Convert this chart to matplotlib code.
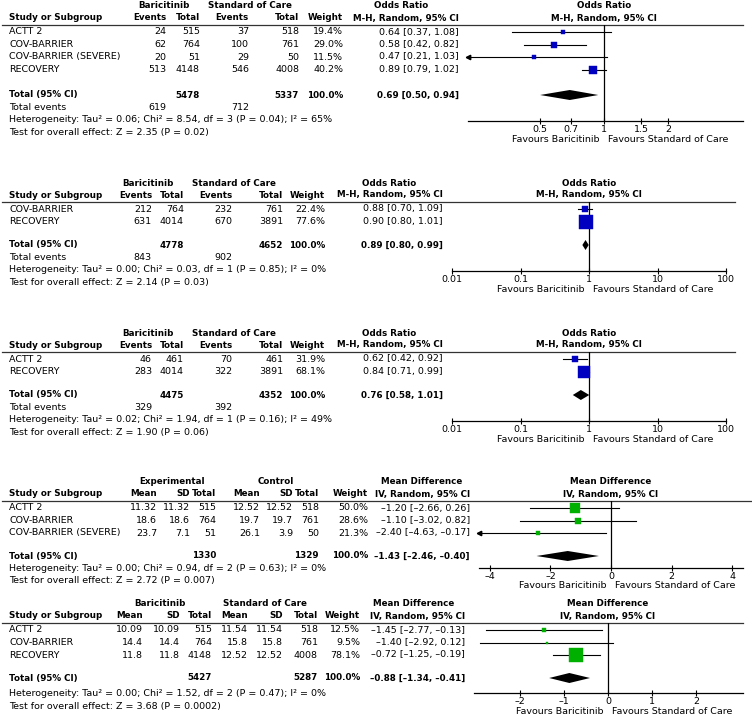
import matplotlib
matplotlib.use("Agg")
import matplotlib.pyplot as plt
from matplotlib.patches import Polygon

plt.rcParams["font.family"] = ["DejaVu Sans"]

W, H = 752, 716
FS = 6.8       # regular text
FS_B = 6.3     # bold text (Lucida bold runs narrower than DejaVu bold)
BLUE = "#0000C0"
GREEN = "#00B000"
DASH = "\u2013"

# --- panel 1: odds ratio, all four studies ---
p1_study = ["ACTT 2", "COV-BARRIER", "COV-BARRIER (SEVERE)", "RECOVERY"]
p1_bari_events = [24, 62, 20, 513]
p1_bari_total = [515, 764, 51, 4148]
p1_soc_events = [37, 100, 29, 546]
p1_soc_total = [518, 761, 50, 4008]
p1_weight = [19.4, 29.0, 11.5, 40.2]
p1_or = [0.64, 0.58, 0.47, 0.89]
p1_lo = [0.37, 0.42, 0.21, 0.79]
p1_hi = [1.08, 0.82, 1.03, 1.02]
p1_totals = [5478, 5337]
p1_total_events = [619, 712]
p1_pooled = [0.69, 0.50, 0.94]
p1_het = "Heterogeneity: Tau² = 0.06; Chi² = 8.54, df = 3 (P = 0.04); I² = 65%"
p1_test = "Test for overall effect: Z = 2.35 (P = 0.02)"
p1_ticks = [0.5, 0.7, 1, 1.5, 2]
p1_ticklabels = ["0.5", "0.7", "1", "1.5", "2"]

# --- panel 2 ---
p2_study = ["COV-BARRIER", "RECOVERY"]
p2_bari_events = [212, 631]
p2_bari_total = [764, 4014]
p2_soc_events = [232, 670]
p2_soc_total = [761, 3891]
p2_weight = [22.4, 77.6]
p2_or = [0.88, 0.90]
p2_lo = [0.70, 0.80]
p2_hi = [1.09, 1.01]
p2_totals = [4778, 4652]
p2_total_events = [843, 902]
p2_pooled = [0.89, 0.80, 0.99]
p2_het = "Heterogeneity: Tau² = 0.00; Chi² = 0.03, df = 1 (P = 0.85); I² = 0%"
p2_test = "Test for overall effect: Z = 2.14 (P = 0.03)"

# --- panel 3 ---
p3_study = ["ACTT 2", "RECOVERY"]
p3_bari_events = [46, 283]
p3_bari_total = [461, 4014]
p3_soc_events = [70, 322]
p3_soc_total = [461, 3891]
p3_weight = [31.9, 68.1]
p3_or = [0.62, 0.84]
p3_lo = [0.42, 0.71]
p3_hi = [0.92, 0.99]
p3_totals = [4475, 4352]
p3_total_events = [329, 392]
p3_pooled = [0.76, 0.58, 1.01]
p3_het = "Heterogeneity: Tau² = 0.02; Chi² = 1.94, df = 1 (P = 0.16); I² = 49%"
p3_test = "Test for overall effect: Z = 1.90 (P = 0.06)"

log_ticks = [0.01, 0.1, 1, 10, 100]
log_ticklabels = ["0.01", "0.1", "1", "10", "100"]

# --- panel 4: mean difference ---
p4_study = ["ACTT 2", "COV-BARRIER", "COV-BARRIER (SEVERE)"]
p4_exp_mean = [11.32, 18.6, 23.7]
p4_exp_sd = [11.32, 18.6, 7.1]
p4_exp_total = [515, 764, 51]
p4_ctl_mean = [12.52, 19.7, 26.1]
p4_ctl_sd = [12.52, 19.7, 3.9]
p4_ctl_total = [518, 761, 50]
p4_weight = [50.0, 28.6, 21.3]
p4_md = [-1.20, -1.10, -2.40]
p4_lo = [-2.66, -3.02, -4.63]
p4_hi = [0.26, 0.82, -0.17]
p4_totals = [1330, 1329]
p4_pooled = [-1.43, -2.46, -0.40]
p4_het = "Heterogeneity: Tau² = 0.00; Chi² = 0.94, df = 2 (P = 0.63); I² = 0%"
p4_test = "Test for overall effect: Z = 2.72 (P = 0.007)"
p4_ticks = [-4, -2, 0, 2, 4]

# --- panel 5 ---
p5_study = ["ACTT 2", "COV-BARRIER", "RECOVERY"]
p5_exp_mean = [10.09, 14.4, 11.8]
p5_exp_sd = [10.09, 14.4, 11.8]
p5_exp_total = [515, 764, 4148]
p5_ctl_mean = [11.54, 15.8, 12.52]
p5_ctl_sd = [11.54, 15.8, 12.52]
p5_ctl_total = [518, 761, 4008]
p5_weight = [12.5, 9.5, 78.1]
p5_md = [-1.45, -1.40, -0.72]
p5_lo = [-2.77, -2.92, -1.25]
p5_hi = [-0.13, 0.12, -0.19]
p5_totals = [5427, 5287]
p5_pooled = [-0.88, -1.34, -0.41]
p5_het = "Heterogeneity: Tau² = 0.00; Chi² = 1.52, df = 2 (P = 0.47); I² = 0%"
p5_test = "Test for overall effect: Z = 3.68 (P = 0.0002)"
p5_ticks = [-2, -1, 0, 1, 2]


def fmt(v):
    return f"{v:.2f}".replace("-", DASH)


def ci_text(m, lo, hi):
    return f"{fmt(m)} [{fmt(lo)}, {fmt(hi)}]"


def txt(ax, x, y, s, ha="right", bold=False):
    ax.text(x, y, s, ha=ha, va="center", fontsize=FS_B if bold else FS,
            fontweight="bold" if bold else "normal")


def draw_panel(fig, ax0, p):
    line_y, axis_y = p["line_y"], p["axis_y"]
    cols = p["cols"]
    rows_y = [line_y + 7 + i * 12.5 for i in range(len(p["names"]))]

    # table headers
    for label, cx in p["groups"]:
        txt(ax0, cx, line_y - 19, label, ha="center", bold=True)
    txt(ax0, 9, line_y - 7, "Study or Subgroup", ha="left", bold=True)
    for label, cx in zip(p["subheads"], cols):
        txt(ax0, cx, line_y - 7, label, bold=True)
    ax0.plot([2, p["line_end"]], [line_y, line_y], color="#333333", lw=0.9)

    for y, name, cells in zip(rows_y, p["names"], p["cells"]):
        txt(ax0, 9, y, name, ha="left")
        for cx, s in zip(cols, cells):
            txt(ax0, cx, y, s)

    ty = p["total_y"]
    txt(ax0, 9, ty, "Total (95% CI)", ha="left", bold=True)
    for cx, s in zip(p["total_cols"], p["total_cells"]):
        txt(ax0, cx, ty, s, bold=True)
    y = ty + 12.5
    if p.get("events") is not None:
        txt(ax0, 9, y, "Total events", ha="left")
        for cx, s in zip(p["events_cols"], p["events"]):
            txt(ax0, cx, y, str(s))
        y += 12.5
    txt(ax0, 9, p.get("het_y", y), p["het"], ha="left")
    txt(ax0, 9, p.get("het_y", y) + 12.5, p["test"], ha="left")

    # forest plot
    x0, x1 = p["plot_x"]
    ax = fig.add_axes([x0 / W, 1 - axis_y / H, (x1 - x0) / W, (axis_y - line_y) / H])
    ax.patch.set_alpha(0)
    if p["log"]:
        ax.set_xscale("log")
    xmin, xmax = p["xlim"]
    ax.set_xlim(xmin, xmax)
    ax.set_ylim(axis_y, line_y)
    ref = p["ref"]
    ax.axvline(ref, color="black", lw=0.9)
    for y, m, lo, hi, w in zip(rows_y, p["est"], p["lo"], p["hi"], p["weight"]):
        ax.plot([max(lo, xmin), min(hi, xmax)], [y, y], color="black", lw=0.8)
        if lo < xmin:
            ax.plot(xmin, y, marker="<", ms=3.2, color="black", clip_on=False)
        side = 0.45 * w ** 0.78 * 0.72
        ax.plot(m, y, marker="s", ms=side, color=p["color"], mec=p["color"], mew=0.3)
    pm, plo, phi = p["pooled"]
    ax.add_patch(Polygon([(plo, ty), (pm, ty - 5), (phi, ty), (pm, ty + 5)],
                         closed=True, color="black", lw=0))

    for s in ["top", "left", "right"]:
        ax.spines[s].set_visible(False)
    ax.spines["bottom"].set_linewidth(0.9)
    ax.set_yticks([])
    ax.minorticks_off()
    ax.set_xticks(p["ticks"])
    ax.set_xticklabels(p["ticklabels"])
    ax.tick_params(axis="x", direction="inout", length=5, width=0.8,
                   labelsize=FS, pad=0.5, colors="black")

    ax.text(ref, line_y - 19, p["plot_head"], ha="center", va="center",
            fontsize=FS_B, fontweight="bold")
    ax.text(ref, line_y - 7, p["plot_sub"], ha="center", va="center",
            fontsize=FS_B, fontweight="bold")
    fy = axis_y + 18
    ax.annotate("Favours Baricitinib", (ref, fy), xytext=(-3, 0),
                textcoords="offset points", ha="right", va="center",
                fontsize=FS, annotation_clip=False)
    ax.annotate("Favours Standard of Care", (ref, fy), xytext=(3, 0),
                textcoords="offset points", ha="left", va="center",
                fontsize=FS, annotation_clip=False)


def or_panel(names, be, bt, se, st, wt, est, lo, hi, totals, events, pooled,
             het, test, line_y, axis_y, cols, groups, line_end, plot_x, xlim,
             ticks, ticklabels, total_y):
    cells = [[str(a), str(b), str(c), str(d), f"{w:.1f}%", ci_text(m, l, h)]
             for a, b, c, d, w, m, l, h in zip(be, bt, se, st, wt, est, lo, hi)]
    return dict(
        names=names, cells=cells, cols=cols, groups=groups,
        subheads=["Events", "Total", "Events", "Total", "Weight", "M-H, Random, 95% CI"],
        total_cols=[cols[1], cols[3], cols[4], cols[5]],
        total_cells=[str(totals[0]), str(totals[1]), "100.0%", ci_text(*pooled)],
        events=events, events_cols=[cols[0], cols[2]],
        het=het, test=test, line_y=line_y, axis_y=axis_y, total_y=total_y,
        line_end=line_end, plot_x=plot_x, log=True, xlim=xlim, ref=1,
        est=est, lo=lo, hi=hi, weight=wt, pooled=pooled, color=BLUE,
        ticks=ticks, ticklabels=ticklabels,
        plot_head="Odds Ratio", plot_sub="M-H, Random, 95% CI")


def md_panel(names, em, esd, et, cm, csd, ct, wt, est, lo, hi, totals, pooled,
             het, test, line_y, axis_y, cols, groups, line_end, plot_x, xlim,
             ticks, total_y, het_y):
    cells = [[str(a), str(b), str(c), str(d), str(e), str(f), f"{w:.1f}%", ci_text(m, l, h)]
             for a, b, c, d, e, f, w, m, l, h in zip(em, esd, et, cm, csd, ct, wt, est, lo, hi)]
    return dict(
        names=names, cells=cells, cols=cols, groups=groups,
        subheads=["Mean", "SD", "Total", "Mean", "SD", "Total", "Weight", "IV, Random, 95% CI"],
        total_cols=[cols[2], cols[5], cols[6], cols[7]],
        total_cells=[str(totals[0]), str(totals[1]), "100.0%", ci_text(*pooled)],
        events=None, het=het, test=test, het_y=het_y,
        line_y=line_y, axis_y=axis_y, total_y=total_y,
        line_end=line_end, plot_x=plot_x, log=False, xlim=xlim, ref=0,
        est=est, lo=lo, hi=hi, weight=wt, pooled=pooled, color=GREEN,
        ticks=ticks, ticklabels=[str(t).replace("-", DASH) for t in ticks],
        plot_head="Mean Difference", plot_sub="IV, Random, 95% CI")


def main():
    fig = plt.figure(figsize=(W / 100, H / 100), dpi=100)
    ax0 = fig.add_axes([0, 0, 1, 1])
    ax0.set_xlim(0, W)
    ax0.set_ylim(H, 0)
    ax0.axis("off")

    or_cols = [152, 184, 232, 283, 325, 443]
    or_groups = [("Baricitinib", 148), ("Standard of Care", 234), ("Odds Ratio", 389)]

    panels = [
        or_panel(p1_study, p1_bari_events, p1_bari_total, p1_soc_events, p1_soc_total,
                 p1_weight, p1_or, p1_lo, p1_hi, p1_totals, p1_total_events, p1_pooled,
                 p1_het, p1_test, 25, 121, [166, 200, 249, 299, 343, 459],
                 [("Baricitinib", 164), ("Standard of Care", 250), ("Odds Ratio", 401)],
                 743, (468, 743), (0.229, 4.51), p1_ticks, p1_ticklabels, 95),
        or_panel(p2_study, p2_bari_events, p2_bari_total, p2_soc_events, p2_soc_total,
                 p2_weight, p2_or, p2_lo, p2_hi, p2_totals, p2_total_events, p2_pooled,
                 p2_het, p2_test, 202, 271, or_cols, or_groups,
                 735, (452, 726), (0.01, 100), log_ticks, log_ticklabels, 245),
        or_panel(p3_study, p3_bari_events, p3_bari_total, p3_soc_events, p3_soc_total,
                 p3_weight, p3_or, p3_lo, p3_hi, p3_totals, p3_total_events, p3_pooled,
                 p3_het, p3_test, 352, 421, or_cols, or_groups,
                 735, (452, 726), (0.01, 100), log_ticks, log_ticklabels, 395),
        md_panel(p4_study, p4_exp_mean, p4_exp_sd, p4_exp_total, p4_ctl_mean, p4_ctl_sd,
                 p4_ctl_total, p4_weight, p4_md, p4_lo, p4_hi, p4_totals, p4_pooled,
                 p4_het, p4_test, 501, 568, [157, 190, 216, 260, 293, 319, 368, 470],
                 [("Experimental", 172), ("Control", 276), ("Mean Difference", 422)],
                 752, (479, 743), (-4.36, 4.36), p4_ticks, 556, 568.5),
        md_panel(p5_study, p5_exp_mean, p5_exp_sd, p5_exp_total, p5_ctl_mean, p5_ctl_sd,
                 p5_ctl_total, p5_weight, p5_md, p5_lo, p5_hi, p5_totals, p5_pooled,
                 p5_het, p5_test, 623, 693, [143, 180, 212, 248, 283, 318, 360, 465],
                 [("Baricitinib", 160), ("Standard of Care", 265), ("Mean Difference", 414)],
                 743, (474, 743), (-3.05, 3.07), p5_ticks, 678, 694),
    ]
    for p in panels:
        draw_panel(fig, ax0, p)

    fig.savefig("out.png", dpi=100)


if __name__ == "__main__":
    main()
